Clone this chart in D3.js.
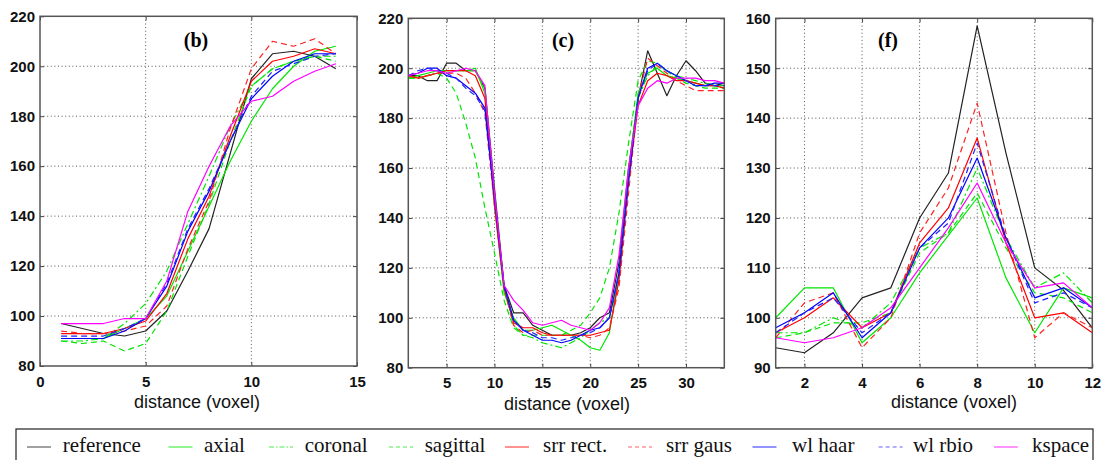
<!DOCTYPE html>
<html><head><meta charset="utf-8">
<script src="https://cdn.jsdelivr.net/npm/d3@7"></script>
<style>
body{margin:0;background:#fff;}
svg{display:block;}
</style></head>
<body>
<svg id="chart" width="1103" height="460"></svg>
<script>
// ---------- DATA ----------
const seriesNames = ["reference","axial","coronal","sagittal","srr rect.","srr gaus","wl haar","wl rbio","kspace"];

// panel (b)
const bX = [1,2,3,4,5,6,7,8,9,10,11,12,13,14];
const bReference = [97,95,93,92,94,102,118,135,165,195,205,206,204,199];
const bAxial     = [91,91,91,95,99,108,126,144,162,178,191,200,206,208];
const bCoronal   = [90,90,91,97,105,118,137,156,176,192,199,202,204,204];
const bSagittal  = [90,89,90,86,89,102,124,145,170,192,199,202,204,202];
const bSrrRect   = [93,93,93,95,98,109,131,148,172,194,202,204,207,205];
const bSrrGaus   = [94,93,93,94,96,104,127,146,175,199,210,208,211,205];
const bWlHaar    = [91,91,91,94,99,112,134,150,170,187,196,202,205,205];
const bWlRbio    = [92,92,92,95,99,113,135,151,170,188,198,201,204,205];
const bKspace    = [97,97,97,99,99,114,142,160,176,186,188,194,198,201];

// panel (c)
const cX = [1,2,3,4,5,6,7,8,9,10,11,12,13,14,15,16,17,18,19,20,21,22,23,24,25,26,27,28,29,30,31,32,33,34];
const cReference = [197,197,195,195,202,202,199,199,192,152,113,102,102,97,95,93,93,93,94,96,100,102,122,160,188,207,198,189,197,203,199,194,193,194];
const cAxial     = [196,197,198,199,199,199,199,200,190,145,110,100,95,95,96,97,95,93,91,88,87,94,118,158,190,198,200,197,196,195,194,193,193,193];
const cCoronal   = [196,196,197,198,199,199,199,199,192,150,112,97,93,92,90,89,88,90,92,95,98,100,115,155,188,197,201,199,197,196,195,194,193,192];
const cSagittal  = [196,196,197,198,196,190,178,164,144,126,107,96,93,93,93,93,93,95,97,102,108,120,142,170,195,203,202,199,196,194,193,192,192,192];
const cSrrRect   = [197,196,197,198,199,199,199,197,188,145,112,98,96,96,94,93,93,93,93,93,94,95,115,155,185,195,198,197,195,195,194,193,193,192];
const cSrrGaus   = [197,196,197,198,198,198,196,190,182,145,112,97,94,95,93,93,93,93,93,92,93,96,112,150,188,204,201,198,195,193,191,191,191,191];
const cWlHaar    = [197,198,200,200,197,196,193,190,184,148,113,99,95,93,91,91,90,91,93,95,96,100,118,155,188,200,202,199,197,195,193,193,194,194];
const cWlRbio    = [197,199,200,199,198,196,192,189,183,148,113,99,95,94,92,92,91,92,93,94,96,100,118,155,188,199,202,199,197,195,193,193,193,193];
const cKspace    = [197,198,199,199,198,199,200,199,193,150,113,107,103,98,97,98,99,97,96,95,98,104,125,160,185,192,195,194,196,196,196,195,195,194];

// panel (f)
const fX = [1,2,3,4,5,6,7,8,9,10,11,12];
const fReference = [94,93,97,104,106,120,129,158.5,133,110,105.5,98];
const fAxial     = [100,106,106,95,100,109,116.5,124,108,97,106,104];
const fCoronal   = [97,97,100,98,103,114,117,130,116,106,109,103];
const fSagittal  = [96,97,99,99,101,113,117,125,114,105,104,101];
const fSrrRect   = [97,100,104,98,101,115,122,136,115,100,101,97];
const fSrrGaus   = [96,103,105,94,100,117,126,143,117,96,101,98];
const fWlHaar    = [98,101,105,96,101,114,120,132,116,104,106,102];
const fWlRbio    = [97,101,104,97,101,114,119,135,116,103,105,102];
const fKspace    = [96,95,96,98,102,110,118,127,115,106,107,102];

// tick labels
const bXTicks = [0,5,10,15];
const bYTicks = [80,100,120,140,160,180,200,220];
const cXTicks = [5,10,15,20,25,30];
const cYTicks = [80,100,120,140,160,180,200,220];
const fXTicks = [2,4,6,8,10,12];
const fYTicks = [90,100,110,120,130,140,150,160];

// ---------- STYLES ----------
const seriesStyle = [
  {color:"#222222", dash:null},
  {color:"#00e600", dash:null},
  {color:"#00e600", dash:"7,3,2,3"},
  {color:"#00e600", dash:"6,4"},
  {color:"#ff0000", dash:null},
  {color:"#ff2020", dash:"6,4"},
  {color:"#0000ff", dash:null},
  {color:"#2020ff", dash:"6,4"},
  {color:"#ff00ff", dash:null}
];

const panels = [
  {title:"(b)", box:[40,16.3,357,366], xDomain:[0,15], yDomain:[80,220], xTicks:bXTicks, yTicks:bYTicks,
   xs:bX, ys:[bReference,bAxial,bCoronal,bSagittal,bSrrRect,bSrrGaus,bWlHaar,bWlRbio,bKspace],
   titleX:196, labelX:197, labelY:408},
  {title:"(c)", box:[408.3,18.3,724.3,367.7], xDomain:[1,34], yDomain:[80,220], xTicks:cXTicks, yTicks:cYTicks,
   xs:cX, ys:[cReference,cAxial,cCoronal,cSagittal,cSrrRect,cSrrGaus,cWlHaar,cWlRbio,cKspace],
   titleX:563, labelX:567, labelY:410},
  {title:"(f)", box:[775.7,18.3,1092.3,367.7], xDomain:[1,12], yDomain:[90,160], xTicks:fXTicks, yTicks:fYTicks,
   xs:fX, ys:[fReference,fAxial,fCoronal,fSagittal,fSrrRect,fSrrGaus,fWlHaar,fWlRbio,fKspace],
   titleX:888, labelX:954, labelY:408}
];

const svg = d3.select("#chart");
const tickFont = "'Liberation Sans', Arial, sans-serif";

panels.forEach(p => {
  const [x0,y0,x1,y1] = p.box;
  const x = d3.scaleLinear().domain(p.xDomain).range([x0,x1]);
  const y = d3.scaleLinear().domain(p.yDomain).range([y1,y0]);
  const g = svg.append("g");

  // grid
  const grid = g.append("g").attr("stroke","#555").attr("stroke-width",1).attr("stroke-dasharray","1,2.6");
  p.xTicks.filter(t => x(t) > x0+1 && x(t) < x1-1).forEach(t => {
    grid.append("line").attr("x1",x(t)).attr("x2",x(t)).attr("y1",y0).attr("y2",y1);
  });
  p.yTicks.filter(t => y(t) > y0+1 && y(t) < y1-1).forEach(t => {
    grid.append("line").attr("x1",x0).attr("x2",x1).attr("y1",y(t)).attr("y2",y(t));
  });

  // series
  const line = d3.line().x((d,i) => x(p.xs[i])).y(d => y(d));
  p.ys.forEach((arr,k) => {
    const st = seriesStyle[k];
    g.append("path").datum(arr).attr("d",line).attr("fill","none")
      .attr("stroke",st.color).attr("stroke-width",1.2)
      .attr("stroke-dasharray",st.dash).attr("stroke-linejoin","round");
  });

  // axes
  const ax = g.append("g").attr("transform",`translate(0,${y1})`)
    .call(d3.axisBottom(x).tickValues(p.xTicks).tickSize(-4).tickPadding(10));
  const ay = g.append("g").attr("transform",`translate(${x0},0)`)
    .call(d3.axisLeft(y).tickValues(p.yTicks).tickSize(-4).tickPadding(5));
  const at = g.append("g").attr("transform",`translate(0,${y0})`)
    .call(d3.axisTop(x).tickValues(p.xTicks).tickSize(-4).tickFormat(""));
  const ar = g.append("g").attr("transform",`translate(${x1},0)`)
    .call(d3.axisRight(y).tickValues(p.yTicks).tickSize(-4).tickFormat(""));
  [ax,ay,at,ar].forEach(a => {
    a.select(".domain").remove();
    a.selectAll("line").attr("stroke","#444");
    a.selectAll("text").attr("font-family",tickFont).attr("font-size",15)
      .attr("font-weight","bold").attr("fill","#111");
  });

  // frame
  g.append("rect").attr("x",x0).attr("y",y0).attr("width",x1-x0).attr("height",y1-y0)
    .attr("fill","none").attr("stroke","#555").attr("stroke-width",1.5);

  // title
  g.append("text").attr("x",p.titleX).attr("y",47).attr("text-anchor","middle")
    .attr("font-family","'Liberation Serif','Times New Roman',serif").attr("font-weight","bold")
    .attr("font-size",20).text(p.title);

  // x label
  g.append("text").attr("x",p.labelX).attr("y",p.labelY).attr("text-anchor","middle")
    .attr("font-family",tickFont).attr("font-size",18).attr("fill","#111").text("distance (voxel)");
});

// legend
const legendLineX = [27,168.5,269,389,505,628,752.5,878.6,994];
const legendTextX = [62.7,204,304.7,424.7,543,666,792,913,1032];
const lg = svg.append("g");
lg.append("rect").attr("x",16).attr("y",429).attr("width",1077).attr("height",40)
  .attr("fill","#fff").attr("stroke","#222").attr("stroke-width",1.2);
seriesNames.forEach((name,k) => {
  const st = seriesStyle[k];
  lg.append("line").attr("x1",legendLineX[k]).attr("x2",legendLineX[k]+24)
    .attr("y1",447).attr("y2",447).attr("stroke",st.color).attr("stroke-width",1.2)
    .attr("stroke-dasharray",st.dash ? (k===2 ? "5,2,1.5,2" : "4,3") : null)
    .attr("opacity",0.7);
  lg.append("text").attr("x",legendTextX[k]).attr("y",452)
    .attr("font-family","'Liberation Serif','Times New Roman',serif").attr("font-size",21)
    .attr("fill","#111").text(name);
});
</script>
</body></html>
